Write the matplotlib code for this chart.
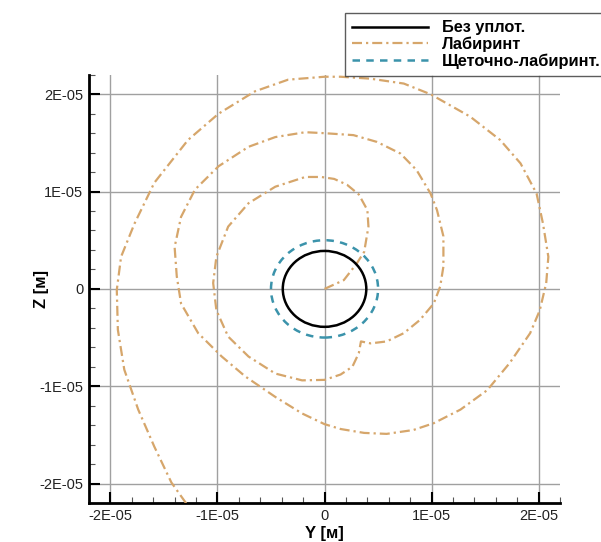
#!/usr/bin/env python3
import matplotlib
matplotlib.use("Agg")
import matplotlib.pyplot as plt
from matplotlib.patches import Circle
from matplotlib.lines import Line2D
from matplotlib.ticker import MultipleLocator
import numpy as np

plt.rcParams['font.family'] = ['Liberation Sans', 'DejaVu Sans']

# labyrinth seal orbit (units of 1E-06 m)
lab_y = [0, 1.8, 3.0, 3.7, 4.1, 4.0, 3.2, 2.1, 0.9, -0.3, -1.8, -4.6, -7.1, -9.0,
         -10.1, -10.4, -10.1, -9.0, -7.1, -4.6, -2.1, 0, 1.5, 2.6, 3.2, 3.4, 4.3,
         5.8, 7.4, 8.9, 10.2, 10.8, 11.1, 11.1, 10.5, 9.9, 8.6, 7.1, 4.9, 2.7, 0,
         -1.8, -4.6, -7.1, -9.9, -12.1, -13.4, -14.0, -13.8, -13.4, -11.8, -9.6,
         -7.4, -4.6, -2.1, 0, 1.5, 3.7, 5.8, 8.3, 10.2, 12.7, 15.2, 17.3, 19.2,
         20.1, 20.7, 20.9, 20.4, 19.8, 18.3, 16.4, 13.6, 9.9, 7.4, 4.3, 1.5, 0,
         -3.4, -6.5, -9.9, -12.75, -15.9, -17.75, -19.0, -19.4, -19.3, -18.7,
         -17.4, -15.9, -14.3, -12.75]
lab_z = [0, 0.9, 2.6, 3.8, 6.4, 8.1, 9.7, 10.7, 11.3, 11.5, 11.5, 10.5, 8.8, 6.4,
         3.3, 0.6, -2.2, -4.9, -6.95, -8.7, -9.4, -9.35, -8.8, -8.0, -6.6, -5.4,
         -5.6, -5.4, -4.55, -3.2, -1.5, 0.24, 2.3, 5.4, 8.1, 9.8, 12.2, 13.9, 15.1,
         15.8, 16.0, 16.1, 15.6, 14.6, 12.6, 10.2, 7.4, 4.3, 1.3, -1.5, -4.55,
         -6.95, -9.0, -11.1, -12.8, -13.9, -14.4, -14.8, -14.9, -14.5, -13.8,
         -12.4, -10.4, -7.6, -4.55, -2.2, 0.6, 3.3, 6.7, 9.8, 12.9, 15.3, 17.7,
         20.0, 21.1, 21.6, 21.8, 21.8, 21.5, 20.3, 18.0, 15.3, 10.9, 6.7, 3.3,
         -0.1, -4.2, -8.3, -12.4, -16.2, -19.9, -22.3]

# circular orbits (radius, m)
r_plain = 3.9e-06
r_brush = 5.0e-06

labels = ['Без уплот.', 'Лабиринт', 'Щеточно-лабиринт.']
c_plain = 'black'
c_lab = '#d6a66b'
c_brush = '#3b93ab'

fig = plt.figure(figsize=(6.01, 5.42), dpi=100)
ax = fig.add_axes([0.148, 0.072, 0.784, 0.79])

ax.grid(True, color='#a0a0a0', lw=1.0, zorder=0)

ax.plot(np.array(lab_y) * 1e-6, np.array(lab_z) * 1e-6, color=c_lab, lw=1.6,
        ls=(0, (4.5, 1.8, 1, 1.8)), solid_joinstyle='round', zorder=3)
ax.add_patch(Circle((0, 0), r_plain, fill=False, ec=c_plain, lw=1.8, zorder=4))
ax.add_patch(Circle((0, 0), r_brush, fill=False, ec=c_brush, lw=1.8,
                    ls=(0, (3, 2.5)), zorder=4))

ax.set_xlim(-2.2e-05, 2.2e-05)
ax.set_ylim(-2.2e-05, 2.2e-05)
ax.xaxis.set_major_locator(MultipleLocator(1e-05))
ax.yaxis.set_major_locator(MultipleLocator(1e-05))
ax.xaxis.set_minor_locator(MultipleLocator(2e-06))
ax.yaxis.set_minor_locator(MultipleLocator(2e-06))

def fmt(v, pos):
    if abs(v) < 1e-12:
        return '0'
    return '%dE-05' % round(v / 1e-05)

ax.xaxis.set_major_formatter(fmt)
ax.yaxis.set_major_formatter(fmt)

ax.tick_params(which='major', direction='in', length=8, width=1.5,
               labelsize=10.5, pad=4, colors='black', labelcolor='#222222')
ax.tick_params(which='minor', direction='in', length=4, width=0.8, color='#555555')
ax.tick_params(top=False, right=False, which='both')

for s in ['top', 'right']:
    ax.spines[s].set_visible(False)
for s in ['left', 'bottom']:
    ax.spines[s].set_linewidth(2)

ax.set_xlabel('Y [м]', fontsize=12, fontweight='bold')
ax.set_ylabel('Z [м]', fontsize=12, fontweight='bold')
ax.xaxis.set_label_coords(0.5, -0.053)
ax.yaxis.set_label_coords(-0.085, 0.5)

handles = [Line2D([], [], color=c_plain, lw=1.8),
           Line2D([], [], color=c_lab, lw=1.6, ls=(0, (4.5, 1.8, 1, 1.8))),
           Line2D([], [], color=c_brush, lw=1.8, ls=(0, (3, 2.5)))]
leg = fig.legend(handles, labels, loc='upper left',
                 bbox_to_anchor=(345 / 601, 1 - 13 / 542),
                 prop={'size': 11.8, 'weight': 'bold'}, frameon=True, fancybox=False,
                 handlelength=4.6, handletextpad=0.85, labelspacing=0.08,
                 borderpad=0.45, borderaxespad=0)
leg.get_frame().set_edgecolor('#333333')
leg.get_frame().set_linewidth(1.0)

fig.savefig('out.png', dpi=100)
